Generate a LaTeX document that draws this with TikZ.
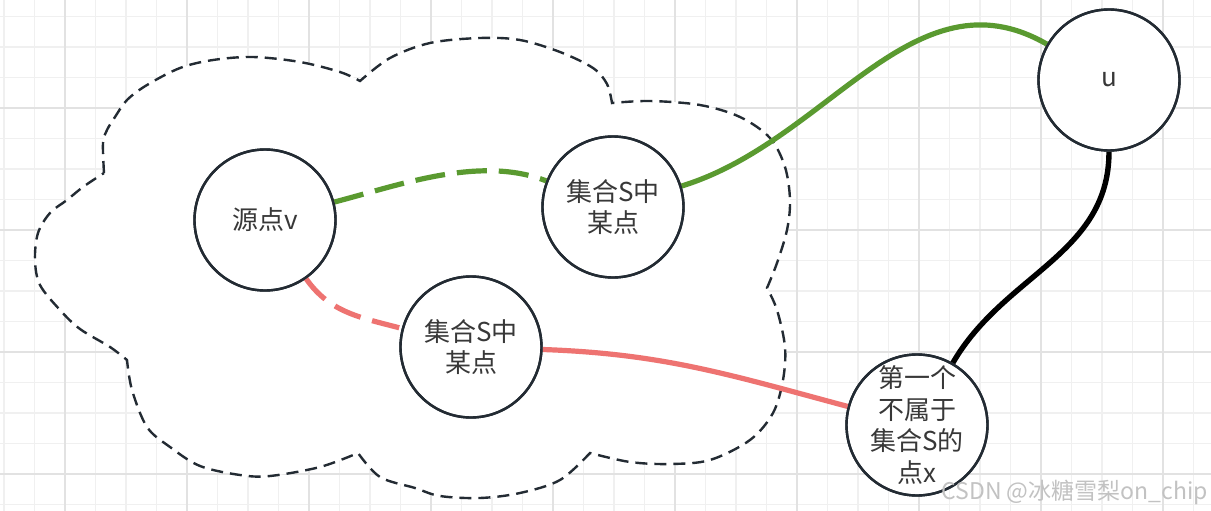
\documentclass[tikz,border=0pt]{standalone}
\usepackage{fontspec}
\setmainfont{Noto Sans CJK SC}
\definecolor{ink}{HTML}{232B33}
\definecolor{txt}{HTML}{383838}
\definecolor{grn}{HTML}{5A9A30}
\definecolor{rd}{HTML}{EE7371}
\definecolor{gminor}{HTML}{F0F0F0}
\definecolor{gmajor}{HTML}{E2E2E2}
\definecolor{wm}{HTML}{C2C2C2}
\begin{document}
\begin{tikzpicture}[x=1pt,y=1pt,
  circ/.style={circle,draw=ink,line width=2.4pt,fill=white,minimum size=141pt,inner sep=-14pt,align=center,text=txt,font=\fontsize{26}{31.5}\selectfont},
  cloudline/.style={draw=ink,line width=2.4pt,dash pattern=on 12pt off 7pt,fill=white,line join=miter},
  minorgrid/.style={draw=gminor,line width=1.5pt},
  majorgrid/.style={draw=gmajor,line width=1.5pt},
  gdash/.style={draw=grn,line width=5.2pt,dash pattern=on 30pt off 12pt},
  gline/.style={draw=grn,line width=5.2pt},
  rdash/.style={draw=rd,line width=5.2pt,dash pattern=on 28pt off 12pt},
  rline/.style={draw=rd,line width=5.2pt},
  kline/.style={draw=black,line width=5.4pt}]
\useasboundingbox (0,0) rectangle (1211,-511);
\fill[white] (0,0) rectangle (1211,-511);
% grid
\foreach \i in {0,...,39} { \draw[minorgrid] ({4+30.5*\i},0) -- ({4+30.5*\i},-511); }
\foreach \i in {0,...,16} { \draw[minorgrid] (0,{-16.5-30.5*\i}) -- (1211,{-16.5-30.5*\i}); }
\foreach \i in {0,...,9} { \draw[majorgrid] ({65+122*\i},0) -- ({65+122*\i},-511); }
\foreach \i in {0,...,3} { \draw[majorgrid] (0,{-108-122*\i}) -- (1211,{-108-122*\i}); }
% cloud
\path[cloudline]
  plot[smooth,tension=0.55] coordinates {(104,-173) (103,-143) (107,-130) (115,-117) (127,-100) (147,-85) (180,-68) (213,-60) (253,-57) (300,-62) (340,-72) (360,-81)}
  -- plot[smooth,tension=0.55] coordinates {(360,-81) (390,-58) (430,-43) (480,-38) (520,-40) (560,-52) (593,-68) (607,-84) (612,-103)}
  -- plot[smooth,tension=0.55] coordinates {(612,-103) (650,-101) (700,-105) (740,-117) (770,-138) (785,-167) (790,-200) (787,-230) (777,-263) (767,-288)}
  -- plot[smooth,tension=0.55] coordinates {(767,-288) (777,-310) (785,-347) (783,-380) (773,-413) (750,-440) (710,-460) (670,-464) (630,-462) (590,-453)}
  -- plot[smooth,tension=0.55] coordinates {(590,-453) (560,-480) (520,-493) (480,-498) (440,-496) (415,-488) (380,-477) (358,-453)}
  -- plot[smooth,tension=0.55] coordinates {(358,-453) (320,-467) (270,-476) (240,-475) (200,-466) (170,-447) (147,-427) (132,-390) (127,-360)}
  -- plot[smooth,tension=0.55] coordinates {(127,-360) (110,-347) (80,-329) (60,-310) (40,-285) (35,-260) (38,-233) (50,-213) (67,-200) (83,-187) (104,-173)}
  -- cycle;
% nodes
\node[circ] (v) at (265,-220) {源点v};
\node[circ] (s1) at (613,-207) {集合S中\\某点};
\node[circ] (s2) at (471,-347) {集合S中\\某点};
\node[circ] (u) at (1109,-80) {u};
\node[circ] (x) at (917,-425) {第一个\\不属于\\集合S的\\点x};
% connectors
\draw[gdash] (v) .. controls (400,-185) and (480,-155) .. (s1);
\draw[gline] (s1) to[out=17,in=150] (u);
\draw[rdash] (v) to[out=-55,in=165] (s2);
\draw[rline] (s2) to[out=-2,in=165] (x);
\draw[kline] (u) to[out=-90,in=60] (x);
% redraw node outlines over connectors
\foreach \n in {v,s1,s2,u,x} { \draw[ink,line width=2.4pt] (\n.center) circle (70.5pt); }
% watermark
\node[anchor=east,text=wm,font=\fontsize{23}{26}\selectfont,inner sep=0pt] (wmk) at (1208,-492) {CSDN @冰糖雪梨on\_chip};
\end{tikzpicture}
\end{document}
